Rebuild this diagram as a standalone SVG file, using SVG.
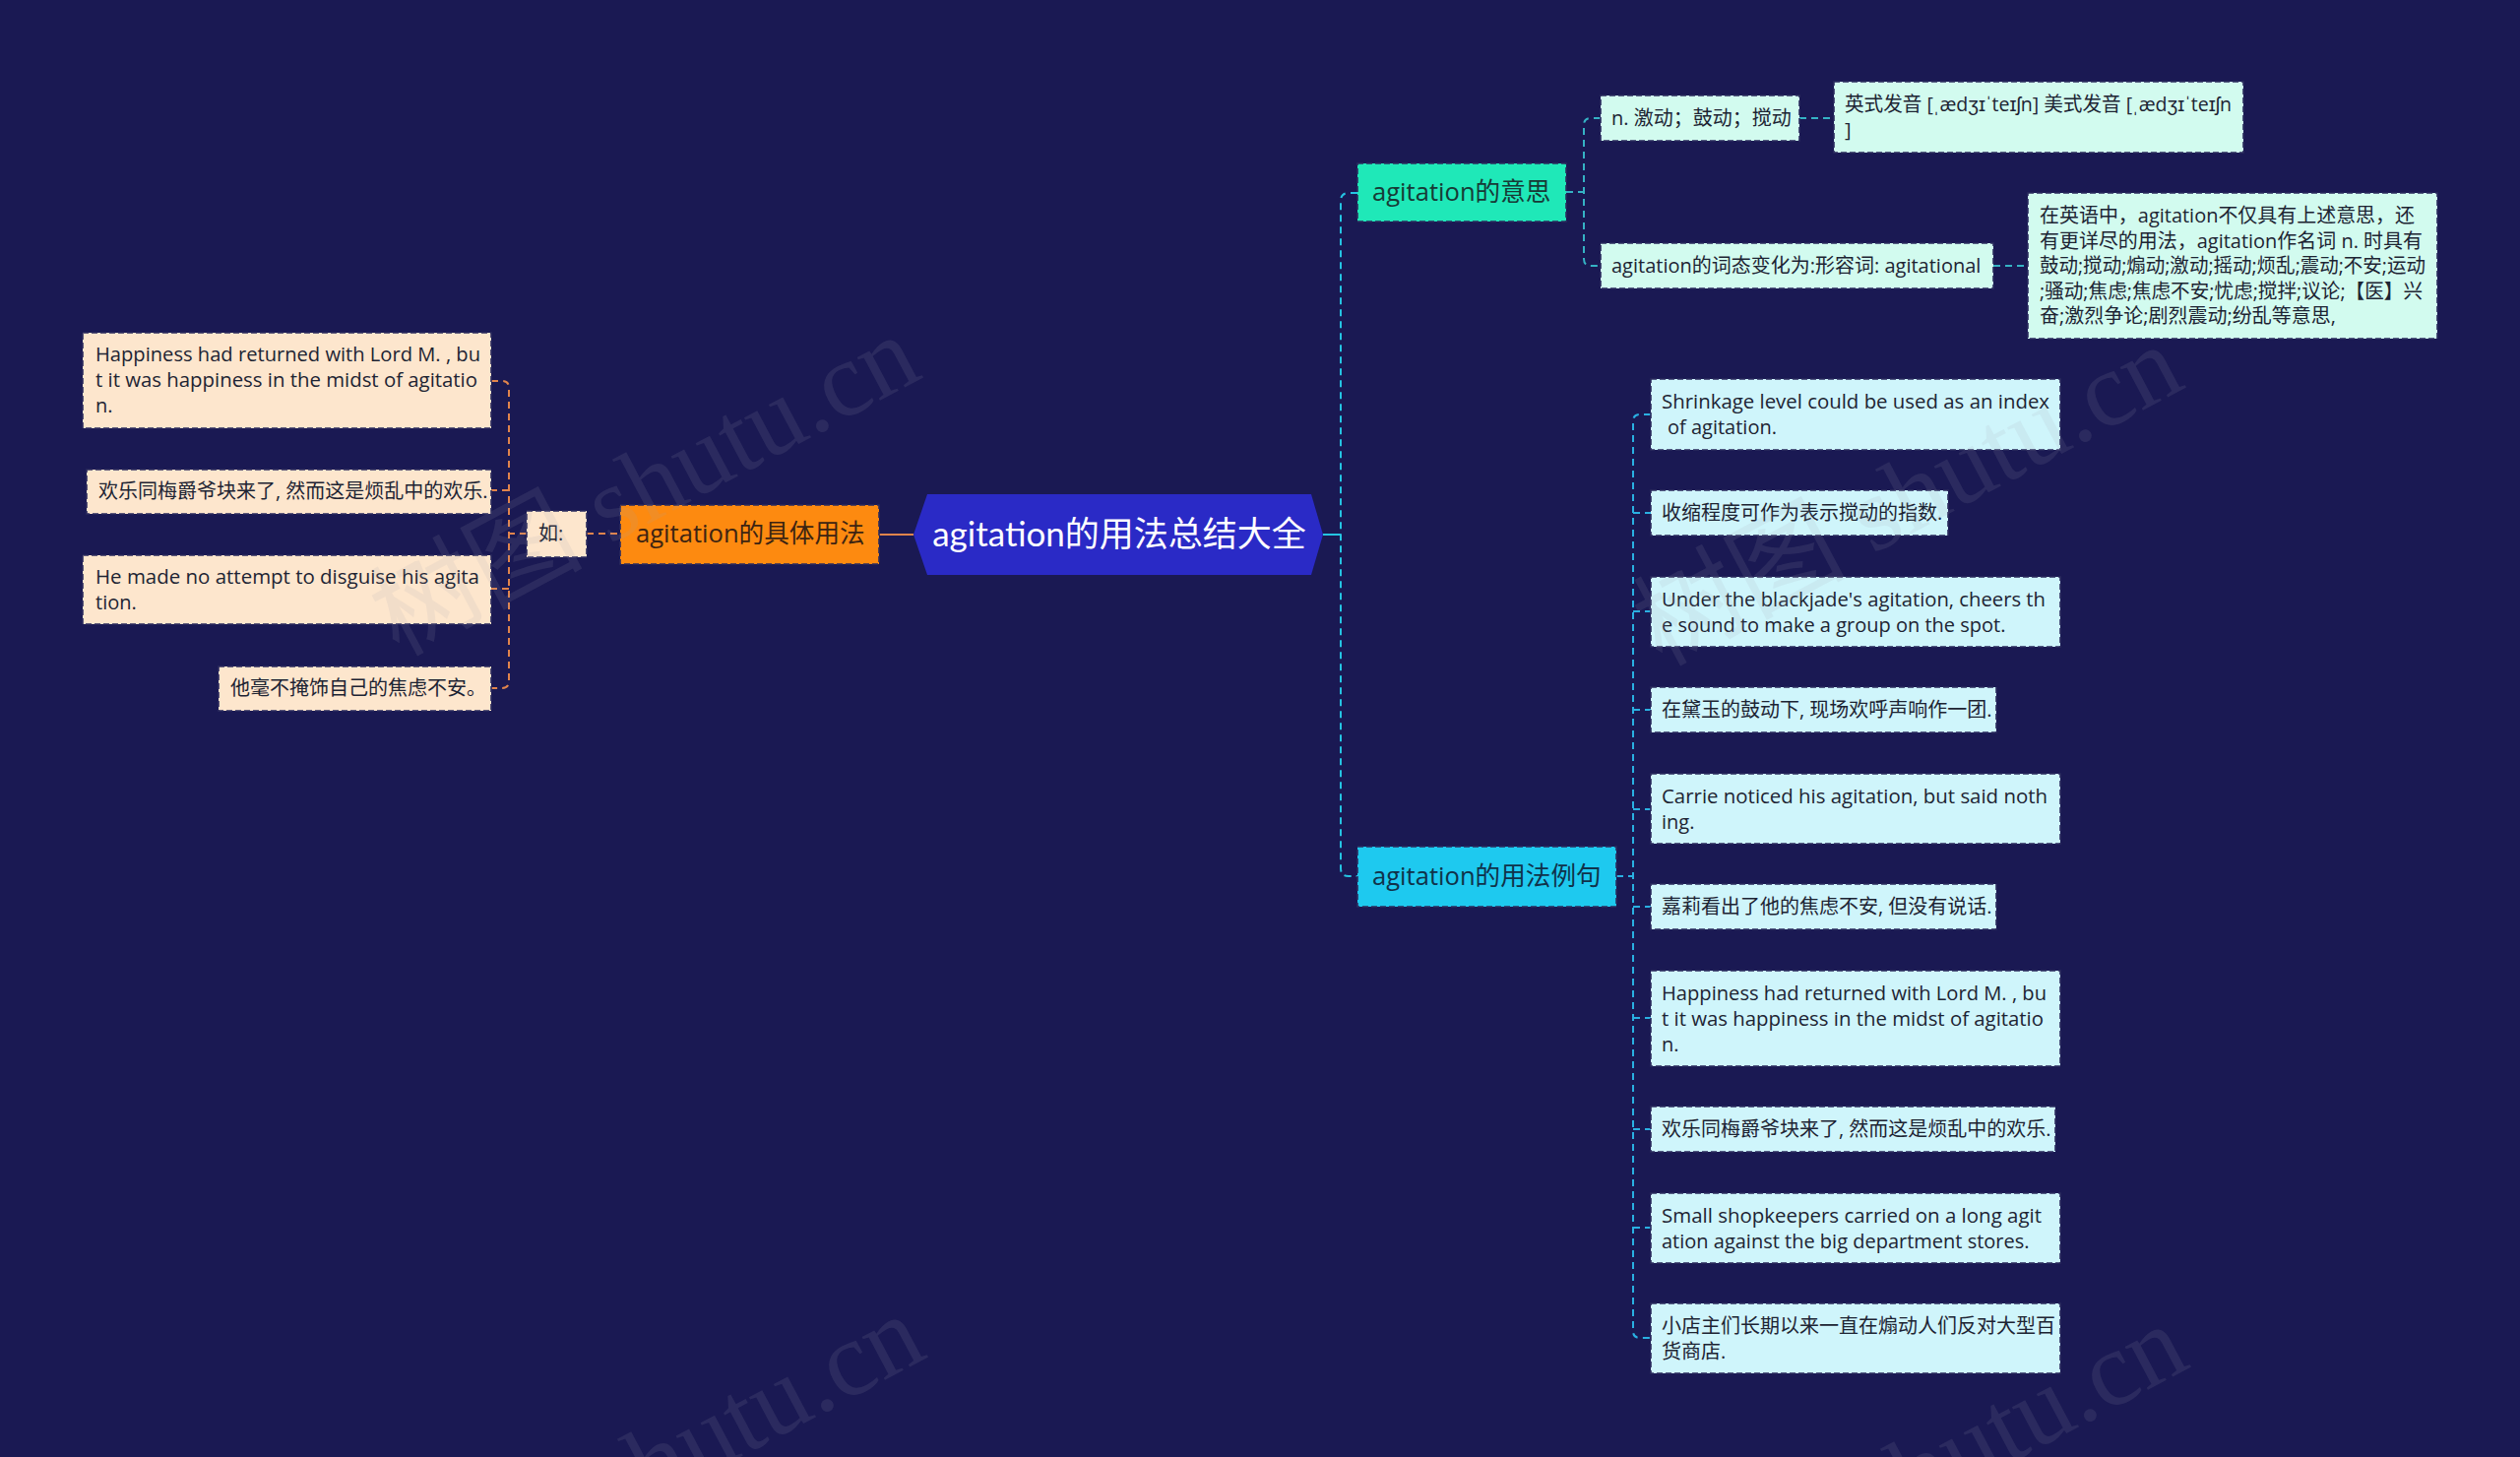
<svg xmlns="http://www.w3.org/2000/svg" width="2560" height="1480" viewBox="0 0 2560 1480">
<style>
.t{font-family:"Open Sans","Noto Sans CJK SC",sans-serif;font-size:20px;fill:#1d2433}
.t1{font-family:"Open Sans","Noto Sans CJK SC",sans-serif;font-size:25.6px}
.box{stroke:#2b2b5e;stroke-width:1.6;stroke-dasharray:6 3}
.mint{fill:#d2fbef}
.cyan{fill:#cff5fb}
.peach{fill:#fde6cd}
.c{fill:none;stroke-width:2;stroke-dasharray:7 5}
.cm{stroke:#35b2c4}
.cc{stroke:#2ab0e2}
.co{stroke:#e0844c}
.wm{font-family:"Liberation Serif","Noto Sans CJK SC",serif;font-size:108px;fill:#a0a0b4;fill-opacity:0.13}
</style>
<rect width="2560" height="1480" fill="#1a1953"/>
<g id="connectors">
<path d="M1344,543 H1362" stroke="#25c4e2" stroke-width="2" fill="none"/>
<path class="c" stroke="#25c4e2" d="M1379,196 H1370 Q1362,196 1362,204 V882 Q1362,890 1370,890 H1379"/>
<path d="M893,543 H928" stroke="#e0844c" stroke-width="2" fill="none"/>
<path class="c cm" d="M1591,195 H1609"/>
<path class="c cm" d="M1626,120 H1616 Q1609,120 1609,127 V263 Q1609,270 1616,270 H1626"/>
<path class="c cm" d="M1828,120 H1863"/>
<path class="c cm" d="M2025,270 H2060"/>
<path class="c cc" d="M1642,890 H1659"/>
<path class="c cc" d="M1677,421 H1666 Q1659,421 1659,428 V1352 Q1659,1359 1666,1359 H1677"/>
<path class="c cc" d="M1659,521 H1677 M1659,621 H1677 M1659,721 H1677 M1659,822 H1677 M1659,921 H1677 M1659,1034 H1677 M1659,1147 H1677 M1659,1247 H1677"/>
<path class="c co" d="M596,542 H630"/>
<path class="c co" d="M535,542 H517"/>
<path class="c co" d="M499,387 H510 Q517,387 517,394 V692 Q517,699 510,699 H499"/>
<path class="c co" d="M517,498 H499 M517,598 H499"/>
</g>
<g id="root">
<polygon points="928,543 942,502 1332,502 1344,543 1332,584 942,584" fill="#2a2ac6"/>
<text x="1137" y="555" text-anchor="middle" font-family="Lato,'Noto Sans CJK SC',sans-serif" font-size="35" fill="#ffffff">agitation的用法总结大全</text>
</g>
<g id="n-meaning">
<rect class="box" x="1379" y="166" width="212" height="59" fill="#1fe8b8"/>
<text class="t1" x="1394" y="204" fill="#173a36">agitation的意思</text>
</g>
<g id="n-def">
<rect class="box mint" x="1626" y="97" width="202" height="46"/>
<text class="t" x="1637" y="127">n. 激动；鼓动；搅动</text>
</g>
<g id="n-pron">
<rect class="box mint" x="1863" y="83" width="416" height="72"/>
<text class="t" x="1874" y="113" textLength="393" lengthAdjust="spacingAndGlyphs">英式发音 [ˌædʒɪˈteɪʃn] 美式发音 [ˌædʒɪˈteɪʃn</text>
<text class="t" x="1874" y="139">]</text>
</g>
<g id="n-form">
<rect class="box mint" x="1626" y="247" width="399" height="46"/>
<text class="t" x="1637" y="277">agitation的词态变化为:形容词: agitational</text>
</g>
<g id="n-detail">
<rect class="box mint" x="2060" y="196" width="416" height="148"/>
<text class="t" x="2072" y="226" textLength="381" lengthAdjust="spacingAndGlyphs">在英语中，agitation不仅具有上述意思，还</text>
<text class="t" x="2072" y="252" textLength="389" lengthAdjust="spacingAndGlyphs">有更详尽的用法，agitation作名词 n. 时具有</text>
<text class="t" x="2072" y="277" textLength="392" lengthAdjust="spacingAndGlyphs">鼓动;搅动;煽动;激动;摇动;烦乱;震动;不安;运动</text>
<text class="t" x="2072" y="303" textLength="389" lengthAdjust="spacingAndGlyphs">;骚动;焦虑;焦虑不安;忧虑;搅拌;议论;【医】兴</text>
<text class="t" x="2072" y="328">奋;激烈争论;剧烈震动;纷乱等意思,</text>
</g>
<g id="n-examples">
<rect class="box" x="1379" y="860" width="263" height="61" fill="#1ec9ef"/>
<text class="t1" x="1394" y="899" fill="#10324a">agitation的用法例句</text>
</g>
<g id="e1">
<rect class="box cyan" x="1677" y="385" width="416" height="72"/>
<text class="t" x="1688" y="415" textLength="394" lengthAdjust="spacingAndGlyphs">Shrinkage level could be used as an index</text>
<text class="t" x="1694" y="441">of agitation.</text>
</g>
<g id="e2">
<rect class="box cyan" x="1677" y="498" width="302" height="46"/>
<text class="t" x="1688" y="528">收缩程度可作为表示搅动的指数.</text>
</g>
<g id="e3">
<rect class="box cyan" x="1677" y="586" width="416" height="71"/>
<text class="t" x="1688" y="616" textLength="390" lengthAdjust="spacingAndGlyphs">Under the blackjade's agitation, cheers th</text>
<text class="t" x="1688" y="642">e sound to make a group on the spot.</text>
</g>
<g id="e4">
<rect class="box cyan" x="1677" y="698" width="351" height="46"/>
<text class="t" x="1688" y="728">在黛玉的鼓动下, 现场欢呼声响作一团.</text>
</g>
<g id="e5">
<rect class="box cyan" x="1677" y="786" width="416" height="71"/>
<text class="t" x="1688" y="816" textLength="392" lengthAdjust="spacingAndGlyphs">Carrie noticed his agitation, but said noth</text>
<text class="t" x="1688" y="842">ing.</text>
</g>
<g id="e6">
<rect class="box cyan" x="1677" y="898" width="351" height="46"/>
<text class="t" x="1688" y="928">嘉莉看出了他的焦虑不安, 但没有说话.</text>
</g>
<g id="e7">
<rect class="box cyan" x="1677" y="986" width="416" height="97"/>
<text class="t" x="1688" y="1016" textLength="391" lengthAdjust="spacingAndGlyphs">Happiness had returned with Lord M. , bu</text>
<text class="t" x="1688" y="1042" textLength="388" lengthAdjust="spacingAndGlyphs">t it was happiness in the midst of agitatio</text>
<text class="t" x="1688" y="1068">n.</text>
</g>
<g id="e8">
<rect class="box cyan" x="1677" y="1124" width="411" height="46"/>
<text class="t" x="1688" y="1154">欢乐同梅爵爷块来了, 然而这是烦乱中的欢乐.</text>
</g>
<g id="e9">
<rect class="box cyan" x="1677" y="1212" width="416" height="71"/>
<text class="t" x="1688" y="1242" textLength="386" lengthAdjust="spacingAndGlyphs">Small shopkeepers carried on a long agit</text>
<text class="t" x="1688" y="1268">ation against the big department stores.</text>
</g>
<g id="e10">
<rect class="box cyan" x="1677" y="1324" width="416" height="71"/>
<text class="t" x="1688" y="1354">小店主们长期以来一直在煽动人们反对大型百</text>
<text class="t" x="1688" y="1380">货商店.</text>
</g>
<g id="n-usage">
<rect class="box" x="630" y="513" width="263" height="60" fill="#fd8a10"/>
<text class="t1" x="646" y="551" fill="#3d2412">agitation的具体用法</text>
</g>
<g id="n-ru">
<rect class="box peach" x="535" y="519" width="61" height="47"/>
<text class="t" x="547" y="549">如:</text>
</g>
<g id="l1">
<rect class="box peach" x="84" y="338" width="415" height="97"/>
<text class="t" x="97" y="367" textLength="391" lengthAdjust="spacingAndGlyphs">Happiness had returned with Lord M. , bu</text>
<text class="t" x="97" y="393" textLength="388" lengthAdjust="spacingAndGlyphs">t it was happiness in the midst of agitatio</text>
<text class="t" x="97" y="419">n.</text>
</g>
<g id="l2">
<rect class="box peach" x="88" y="477" width="411" height="45"/>
<text class="t" x="100" y="506">欢乐同梅爵爷块来了, 然而这是烦乱中的欢乐.</text>
</g>
<g id="l3">
<rect class="box peach" x="84" y="564" width="415" height="70"/>
<text class="t" x="97" y="593" textLength="390" lengthAdjust="spacingAndGlyphs">He made no attempt to disguise his agita</text>
<text class="t" x="97" y="619">tion.</text>
</g>
<g id="l4">
<rect class="box peach" x="222" y="677" width="277" height="45"/>
<text class="t" x="234" y="706">他毫不掩饰自己的焦虑不安。</text>
</g>
<g id="watermarks">
<text class="wm" text-anchor="middle" transform="translate(672,525) rotate(-28)">树图 shutu.cn</text>
<text class="wm" text-anchor="middle" transform="translate(1955,535) rotate(-28)">树图 shutu.cn</text>
<text class="wm" text-anchor="middle" transform="translate(677,1520) rotate(-28)">树图 shutu.cn</text>
<text class="wm" text-anchor="middle" transform="translate(1960,1530) rotate(-28)">树图 shutu.cn</text>
</g>
</svg>
